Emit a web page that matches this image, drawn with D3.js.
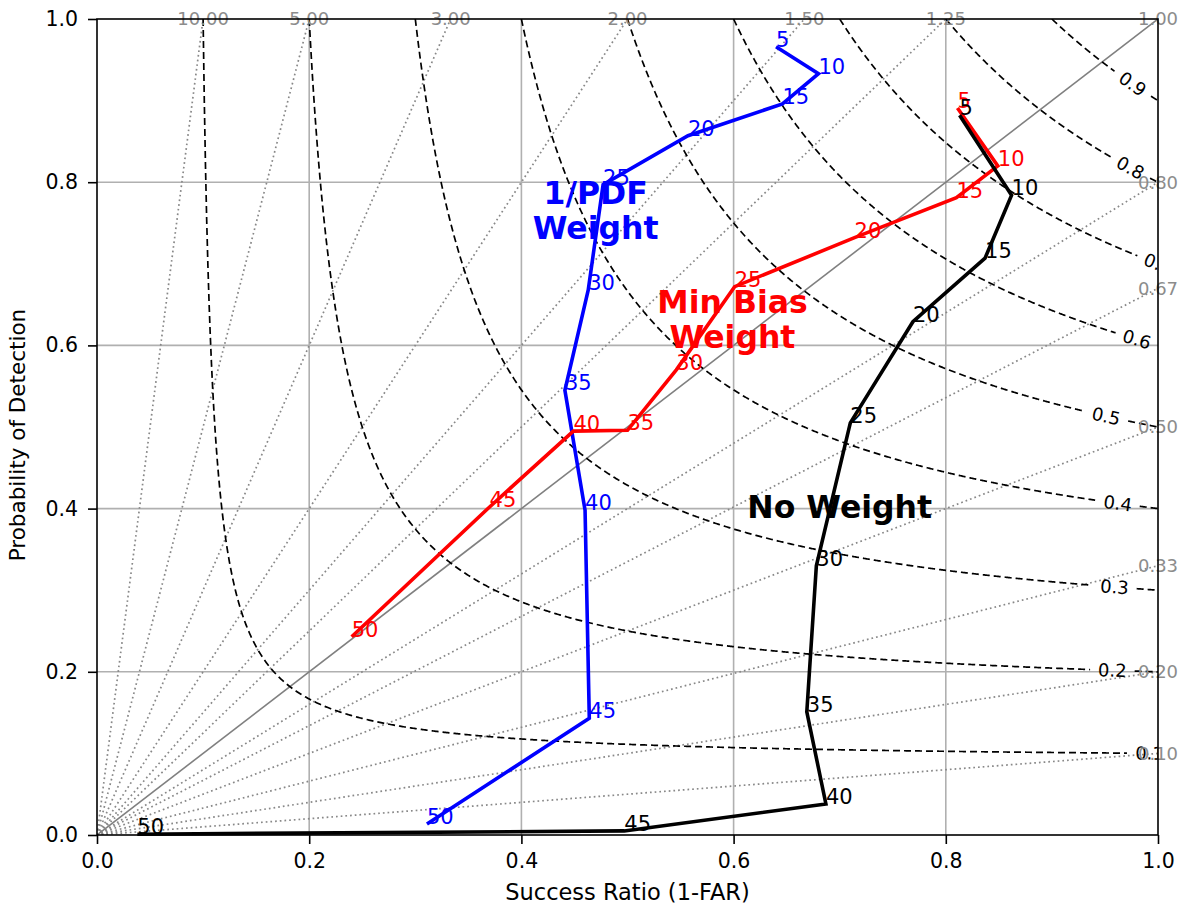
<!DOCTYPE html>
<html>
<head>
<meta charset="utf-8">
<script src="https://cdn.jsdelivr.net/npm/d3@7"></script>
<style>
  body { margin: 0; background: #fff; }
  svg { display: block; font-family: "DejaVu Sans", sans-serif; }
</style>
</head>
<body>
<svg id="chart" width="1183" height="913"></svg>
<script>
// thresholds shown next to each vertex
const thresholds = [5, 10, 15, 20, 25, 30, 35, 40, 45, 50];

// success ratio / POD per threshold
const pdfSR   = [0.640, 0.680, 0.646, 0.557, 0.477, 0.463, 0.441, 0.460, 0.464, 0.311];
const pdfPOD  = [0.966, 0.933, 0.896, 0.857, 0.797, 0.668, 0.545, 0.398, 0.143, 0.0135];
const biasSR  = [0.811, 0.849, 0.810, 0.714, 0.601, 0.546, 0.500, 0.449, 0.370, 0.240];
const biasPOD = [0.891, 0.820, 0.781, 0.732, 0.672, 0.570, 0.496, 0.495, 0.402, 0.243];
const noSR    = [0.813, 0.862, 0.837, 0.769, 0.710, 0.678, 0.669, 0.687, 0.497, 0.038];
const noPOD   = [0.882, 0.784, 0.707, 0.629, 0.505, 0.330, 0.151, 0.038, 0.005, 0.001];

// background guides
const csiLevels = [0.1, 0.2, 0.3, 0.4, 0.5, 0.6, 0.7, 0.8, 0.9];
const csiLabelSR = [0.992, 0.957, 0.959, 0.962, 0.951, 0.980, 1.0, 0.974, 0.976];
const biasLevels = [10, 5, 3, 2, 1.5, 1.25, 0.8, 0.67, 0.5, 0.33, 0.2, 0.1];
const biasLabels = [10, 5, 3, 2, 1.5, 1.25, 1, 0.8, 0.67, 0.5, 0.33, 0.2, 0.1];
const gridTicks = [0.2, 0.4, 0.6, 0.8];
const axisTicks = [0, 0.2, 0.4, 0.6, 0.8, 1.0];

const series = [
  { name: "pdf",  sr: pdfSR,  pod: pdfPOD,  color: "#0000ff" },
  { name: "bias", sr: biasSR, pod: biasPOD, color: "#ff0000" },
  { name: "none", sr: noSR,   pod: noPOD,   color: "#000000" },
];

// big text annotations (data coords of centre / baseline of first line)
const notes = [
  { lines: ["1/PDF", "Weight"],   x: 0.470, y: 0.773, color: "#0000ff" },
  { lines: ["Min Bias", "Weight"], x: 0.599, y: 0.640, color: "#ff0000" },
  { lines: ["No Weight"],          x: 0.700, y: 0.389, color: "#000000" },
];

const margin = { left: 97, right: 25, top: 19, bottom: 78 };
const svg = d3.select("#chart");
const W = +svg.attr("width"), H = +svg.attr("height");
const pw = W - margin.left - margin.right;
const ph = H - margin.top - margin.bottom;

const x = d3.scaleLinear().domain([0, 1]).range([margin.left, margin.left + pw]);
const y = d3.scaleLinear().domain([0, 1]).range([margin.top + ph, margin.top]);

svg.append("defs").append("clipPath").attr("id", "plot-clip")
  .append("rect")
  .attr("x", margin.left).attr("y", margin.top)
  .attr("width", pw).attr("height", ph);

const plot = svg.append("g").attr("clip-path", "url(#plot-clip)");

// grid
plot.append("g").selectAll("line.gx")
  .data(gridTicks).join("line")
  .attr("x1", d => x(d)).attr("x2", d => x(d))
  .attr("y1", y(0)).attr("y2", y(1))
  .attr("stroke", "#b0b0b0").attr("stroke-width", 1.6);
plot.append("g").selectAll("line.gy")
  .data(gridTicks).join("line")
  .attr("y1", d => y(d)).attr("y2", d => y(d))
  .attr("x1", x(0)).attr("x2", x(1))
  .attr("stroke", "#b0b0b0").attr("stroke-width", 1.6);

// bias lines (dotted), end at top edge or right edge
function biasEnd(b) {
  return b >= 1 ? [1 / b, 1] : [1, b];
}
plot.append("g").selectAll("line")
  .data(biasLevels).join("line")
  .attr("x1", x(0)).attr("y1", y(0))
  .attr("x2", d => x(biasEnd(d)[0])).attr("y2", d => y(biasEnd(d)[1]))
  .attr("stroke", "#888").attr("stroke-width", 1.7)
  .attr("stroke-dasharray", "1.7,3");

// bias = 1
plot.append("line")
  .attr("x1", x(0)).attr("y1", y(0)).attr("x2", x(1)).attr("y2", y(1))
  .attr("stroke", "#808080").attr("stroke-width", 1.6);

// CSI contours
const csiPod = (c, sr) => 1 / (1 / c + 1 - 1 / sr);
const csiG = plot.append("g");
const lineGen = d3.line().defined(d => !d.gap).x(d => d.px).y(d => d.py);
csiLevels.forEach((c, i) => {
  const lsr = csiLabelSR[i];
  const lx = x(lsr), ly = y(csiPod(c, lsr));
  const s1 = Math.min(lsr, 0.995);
  const ang = Math.atan2(y(csiPod(c, s1)) - y(csiPod(c, s1 - 0.01)), x(s1) - x(s1 - 0.01)) * 180 / Math.PI;
  const gap = 22;
  const pts = d3.range(0, 801).map(k => {
    const sr = c + (1 - c) * k / 800;
    const px = x(sr), py = y(csiPod(c, sr));
    return { px, py, gap: Math.hypot(px - lx, py - ly) < gap };
  });
  csiG.append("path")
    .attr("d", lineGen(pts))
    .attr("fill", "none")
    .attr("stroke", "#000").attr("stroke-width", 1.7)
    .attr("stroke-dasharray", "7,4");
  csiG.append("text")
    .attr("transform", `translate(${lx},${ly}) rotate(${ang})`)
    .attr("text-anchor", "middle")
    .attr("dy", "0.35em")
    .attr("font-size", 18)
    .attr("fill", "#000")
    .text(c.toFixed(1));
});

// bias labels along top and right edges
svg.append("g").selectAll("text")
  .data(biasLabels).join("text")
  .attr("x", d => x(biasEnd(d)[0]))
  .attr("y", d => y(biasEnd(d)[1]))
  .attr("dy", "0.35em")
  .attr("text-anchor", "middle")
  .attr("font-size", 18)
  .attr("fill", "#8c8c8c")
  .text(d => d.toFixed(2));

// series lines and threshold labels
const seriesLine = d3.line().x(d => x(d[0])).y(d => y(d[1]));
series.forEach(s => {
  const pts = s.sr.map((v, i) => [v, s.pod[i]]);
  svg.append("path")
    .attr("d", seriesLine(pts))
    .attr("fill", "none")
    .attr("stroke", s.color).attr("stroke-width", 3.6)
    .attr("stroke-linejoin", "miter");
  svg.append("g").selectAll("text")
    .data(pts).join("text")
    .attr("x", d => x(d[0]))
    .attr("y", d => y(d[1]))
    .attr("font-size", 21)
    .attr("fill", s.color)
    .text((d, i) => thresholds[i]);
});

// annotations
notes.forEach(n => {
  const t = svg.append("text")
    .attr("x", x(n.x)).attr("y", y(n.y))
    .attr("text-anchor", "middle")
    .attr("font-size", 31.5).attr("font-weight", "bold")
    .attr("fill", n.color);
  n.lines.forEach((l, i) => {
    t.append("tspan").attr("x", x(n.x)).attr("dy", i === 0 ? 0 : 35).text(l);
  });
});

// axes
const fmt = d3.format(".1f");
const xAxis = svg.append("g")
  .attr("transform", `translate(0,${y(0)})`)
  .call(d3.axisBottom(x).tickValues(axisTicks).tickFormat(fmt).tickSize(9).tickPadding(9));
const yAxis = svg.append("g")
  .attr("transform", `translate(${x(0)},0)`)
  .call(d3.axisLeft(y).tickValues(axisTicks).tickFormat(fmt).tickSize(9).tickPadding(10));
[xAxis, yAxis].forEach(g => {
  g.select(".domain").remove();
  g.selectAll(".tick line").attr("stroke", "#000").attr("stroke-width", 1.6);
  g.selectAll(".tick text").attr("font-size", 20.5).attr("fill", "#000")
    .attr("font-family", "DejaVu Sans");
});

// frame
svg.append("rect")
  .attr("x", x(0)).attr("y", y(1))
  .attr("width", x(1) - x(0)).attr("height", y(0) - y(1))
  .attr("fill", "none").attr("stroke", "#000").attr("stroke-width", 1.6);

// axis titles
svg.append("text")
  .attr("x", (x(0) + x(1)) / 2).attr("y", 900)
  .attr("text-anchor", "middle").attr("font-size", 22.5)
  .text("Success Ratio (1-FAR)");
svg.append("text")
  .attr("transform", `translate(25,${(y(0) + y(1)) / 2 + 8}) rotate(-90)`)
  .attr("text-anchor", "middle").attr("font-size", 21.5)
  .text("Probability of Detection");
</script>
</body>
</html>
